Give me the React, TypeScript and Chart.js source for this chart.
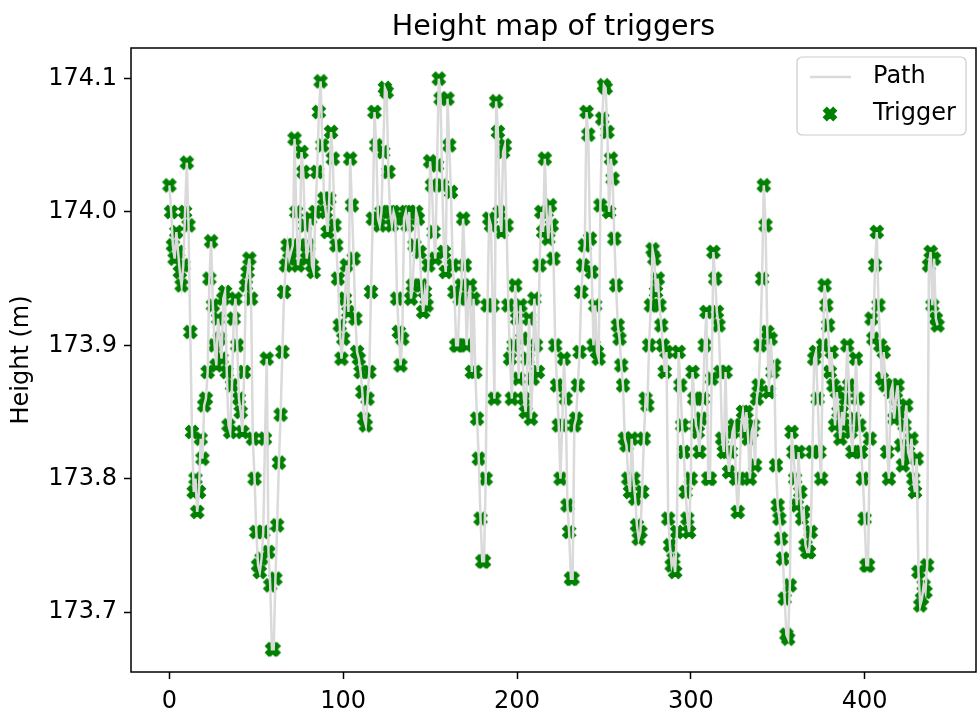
import React, { useEffect, useRef } from "react";
import { Chart, registerables } from "chart.js";

Chart.register(...registerables);

const heights: number[] = [
  174.02, 174.0, 173.975, 173.965, 173.985, 173.97, 173.955, 173.945, 173.96, 174.0,
  174.037, 173.99, 173.91, 173.835, 173.79, 173.8, 173.775, 173.79, 173.83, 173.815,
  173.855, 173.86, 173.88, 173.95, 173.978, 173.93, 173.9, 173.885, 173.92, 173.905,
  173.89, 173.935, 173.94, 173.88, 173.84, 173.835, 173.87, 173.92, 173.935, 173.9,
  173.86, 173.85, 173.835, 173.88, 173.945, 173.955, 173.965, 173.935, 173.83, 173.8,
  173.76, 173.735, 173.73, 173.74, 173.76, 173.83, 173.89, 173.745, 173.72, 173.672,
  173.672, 173.725, 173.765, 173.812, 173.848, 173.895, 173.94, 173.96, 173.975, 173.965,
  173.97, 173.975, 174.055, 174.0, 173.96, 173.975, 174.045, 174.03, 173.99, 173.965,
  173.975, 173.995, 173.96, 173.955, 174.0, 174.03, 174.075, 174.098, 174.05, 174.01,
  174.0, 173.985, 174.01, 174.06, 174.04, 173.99, 173.975, 173.95, 173.915, 173.89,
  173.905, 173.935, 173.96, 173.925, 174.04, 174.005, 173.965, 173.92, 173.895, 173.89,
  173.88, 173.865, 173.845, 173.84, 173.86, 173.88, 173.94, 173.995, 174.075, 174.05,
  173.995, 173.99, 174.0, 174.045, 174.093, 174.09, 174.03, 174.0, 173.99, 174.0,
  173.995, 173.935, 173.91, 173.885, 173.905, 173.995, 174.0, 173.99, 174.0, 173.935,
  173.945, 173.975, 174.0, 173.995, 173.97, 173.945, 173.925, 173.94, 173.93, 173.96,
  174.038, 174.02, 173.985, 173.965, 174.035, 174.1, 174.085, 174.02, 173.97, 173.955,
  174.085, 174.05, 174.015, 173.96, 173.94, 173.9, 173.9, 173.935, 173.945, 173.995,
  173.96, 173.9, 173.935, 173.945, 173.88, 173.935, 173.88, 173.845, 173.815, 173.77,
  173.738, 173.738, 173.8, 173.93, 173.995, 173.99, 173.93, 173.86, 174.083, 174.06,
  174.0, 173.985, 174.045, 174.05, 173.99, 173.93, 173.89, 173.86, 173.9, 173.945,
  173.92, 173.875, 173.93, 173.905, 173.86, 173.85, 173.89, 173.92, 173.845, 173.875,
  173.935, 173.9, 173.88, 173.96, 174.0, 173.985, 174.04, 174.0, 173.98, 174.005,
  173.99, 173.965, 173.9, 173.87, 173.84, 173.8, 173.84, 173.89, 173.86, 173.78,
  173.76, 173.725, 173.725, 173.84, 173.845, 173.87, 173.895, 173.94, 173.96, 173.975,
  174.075, 174.058, 173.98, 173.955, 173.9, 173.93, 173.895, 173.89, 174.005, 174.07,
  174.095, 174.093, 174.06, 174.0, 174.04, 174.025, 173.98, 173.945, 173.915, 173.905,
  173.885, 173.87, 173.83, 173.825, 173.8, 173.79, 173.83, 173.8, 173.785, 173.765,
  173.755, 173.76, 173.79, 173.83, 173.86, 173.855, 173.9, 173.93, 173.972, 173.965,
  173.94, 173.95, 173.93, 173.915, 173.9, 173.88, 173.895, 173.77, 173.75, 173.735,
  173.74, 173.73, 173.76, 173.895, 173.87, 173.84, 173.82, 173.79, 173.77, 173.76,
  173.8, 173.88, 173.86, 173.84, 173.835, 173.82, 173.845, 173.86, 173.9, 173.925,
  173.8, 173.8, 173.875, 173.97, 173.95, 173.925, 173.915, 173.88, 173.83, 173.82,
  173.88, 173.82, 173.805, 173.82, 173.835, 173.84, 173.8, 173.775, 173.8, 173.84,
  173.85, 173.835, 173.85, 173.83, 173.8, 173.835, 173.84, 173.81, 173.86, 173.87,
  173.9, 173.95, 174.02, 173.99, 173.91, 173.865, 173.905, 173.88, 173.885, 173.81,
  173.78, 173.77, 173.755, 173.74, 173.71, 173.683, 173.68, 173.72, 173.835, 173.82,
  173.8, 173.78, 173.82, 173.79, 173.77, 173.775, 173.75, 173.745, 173.745, 173.76,
  173.82, 173.89, 173.895, 173.86, 173.82, 173.8, 173.9, 173.945, 173.93, 173.915,
  173.88, 173.895, 173.87, 173.84, 173.865, 173.85, 173.83, 173.85, 173.84, 173.86,
  173.9, 173.87, 173.835, 173.82, 173.845, 173.89, 173.86, 173.84, 173.82, 173.8,
  173.77, 173.735, 173.735, 173.83, 173.92, 173.905, 173.96, 173.985, 173.93, 173.9,
  173.875, 173.895, 173.87, 173.82, 173.8, 173.865, 173.87, 173.845, 173.86, 173.87,
  173.85, 173.825, 173.81, 173.84, 173.855, 173.82, 173.815, 173.83, 173.8, 173.79,
  173.815, 173.73, 173.705, 173.71, 173.72, 173.715, 173.735, 173.96, 173.97, 173.93,
  173.965, 173.92, 173.915,
];

const xTicks: number[] = [0, 100, 200, 300, 400];
const yTicks: number[] = [173.7, 173.8, 173.9, 174.0, 174.1];

const titleText = "Height map of triggers";
const yLabel = "Height (m)";
const legendLabels = ["Path", "Trigger"];

const FONT = "'DejaVu Sans', sans-serif";
const GREEN = "#008000";
const PATH_COLOR = "#dadada";

function makeMarker(): HTMLCanvasElement {
  const c = document.createElement("canvas");
  c.width = 20;
  c.height = 20;
  const ctx = c.getContext("2d")!;
  const base = [
    [-1, -3], [-1, -1], [-3, -1], [-3, 1], [-1, 1], [-1, 3],
    [1, 3], [1, 1], [3, 1], [3, -1], [1, -1], [1, -3],
  ];
  const s = 13.5 / 6;
  const a = Math.PI / 4;
  ctx.beginPath();
  base.forEach(([px, py], i) => {
    const x = px * s, y = py * s;
    const rx = x * Math.cos(a) - y * Math.sin(a) + 10;
    const ry = x * Math.sin(a) + y * Math.cos(a) + 10;
    if (i === 0) ctx.moveTo(rx, ry);
    else ctx.lineTo(rx, ry);
  });
  ctx.closePath();
  ctx.fillStyle = GREEN;
  ctx.fill();
  ctx.lineWidth = 1.5;
  ctx.strokeStyle = GREEN;
  ctx.stroke();
  return c;
}

export default function App() {
  const ref = useRef<HTMLCanvasElement | null>(null);

  useEffect(() => {
    document.body.style.margin = "0";
    const canvas = ref.current!;
    const marker = makeMarker();
    const points = heights.map((h, i) => ({ x: i, y: h }));

    const decor = {
      id: "decor",
      afterDraw(chart: any) {
        const { ctx, chartArea } = chart;
        const { left, right, top, bottom } = chartArea;
        ctx.save();
        ctx.strokeStyle = "#000";
        ctx.lineWidth = 1.5;
        ctx.strokeRect(left, top, right - left, bottom - top);
        ctx.fillStyle = "#000";
        ctx.font = `28.5px ${FONT}`;
        ctx.textAlign = "center";
        ctx.textBaseline = "alphabetic";
        ctx.fillText(titleText, (left + right) / 2, top - 13);
        ctx.save();
        ctx.translate(22, (top + bottom) / 2);
        ctx.rotate(-Math.PI / 2);
        ctx.font = `24px ${FONT}`;
        ctx.textAlign = "center";
        ctx.textBaseline = "middle";
        ctx.fillText(yLabel, 0, 0);
        ctx.restore();
        const lx = 797, ly = 57, lw = 169, lh = 78;
        ctx.beginPath();
        ctx.roundRect(lx, ly, lw, lh, 5);
        ctx.fillStyle = "rgba(255,255,255,0.8)";
        ctx.fill();
        ctx.strokeStyle = "#cccccc";
        ctx.lineWidth = 1.2;
        ctx.stroke();
        ctx.beginPath();
        ctx.moveTo(810, 77);
        ctx.lineTo(851, 77);
        ctx.strokeStyle = PATH_COLOR;
        ctx.lineWidth = 2.5;
        ctx.stroke();
        ctx.drawImage(marker, 830 - 10, 114 - 10);
        ctx.fillStyle = "#000";
        ctx.font = `24px ${FONT}`;
        ctx.textAlign = "left";
        ctx.textBaseline = "middle";
        ctx.fillText(legendLabels[0], 873, 77);
        ctx.fillText(legendLabels[1], 873, 114);
        ctx.restore();
      },
    };

    const chart = new Chart(canvas, {
      type: "scatter",
      data: {
        datasets: [
          {
            label: legendLabels[0],
            data: points,
            showLine: true,
            borderColor: PATH_COLOR,
            borderWidth: 2.5,
            pointRadius: 0,
            pointHoverRadius: 0,
            order: 1,
          } as any,
          {
            label: legendLabels[1],
            data: points,
            pointStyle: marker as any,
            pointRadius: 7,
            backgroundColor: GREEN,
            borderColor: GREEN,
            order: 2,
          },
        ],
      },
      options: {
        responsive: false,
        animation: false,
        devicePixelRatio: 1,
        layout: { autoPadding: false, padding: { top: 48, right: 2, left: 0, bottom: 0 } },
        plugins: {
          legend: { display: false },
          title: { display: false },
          tooltip: { enabled: false },
        },
        events: [],
        scales: {
          x: {
            type: "linear",
            min: -22.1,
            max: 464.1,
            afterFit: (s: any) => {
              s.height = 46;
              s.paddingLeft = 0;
              s.paddingRight = 0;
            },
            afterBuildTicks: (s: any) => { s.ticks = xTicks.map((v) => ({ value: v })); },
            grid: { drawOnChartArea: false, drawTicks: true, tickLength: 7, color: "#000", tickWidth: 1.5 },
            border: { display: false },
            ticks: {
              color: "#000",
              padding: 8,
              font: { family: FONT, size: 24 },
              callback: (v: any) => String(v),
              maxRotation: 0,
            },
          },
          y: {
            type: "linear",
            min: 173.655,
            max: 174.123,
            afterFit: (s: any) => {
              s.width = 131;
              s.paddingTop = 0;
              s.paddingBottom = 0;
            },
            afterBuildTicks: (s: any) => { s.ticks = yTicks.map((v) => ({ value: v })); },
            grid: { drawOnChartArea: false, drawTicks: true, tickLength: 7, color: "#000", tickWidth: 1.5 },
            border: { display: false },
            ticks: {
              color: "#000",
              padding: 7,
              font: { family: FONT, size: 24 },
              callback: (v: any) => Number(v).toFixed(1),
            },
          },
        },
      },
      plugins: [decor],
    });
    return () => chart.destroy();
  }, []);

  return (
    <div style={{ width: 978, height: 718 }}>
      <canvas ref={ref} width={978} height={718} style={{ display: "block" }} />
    </div>
  );
}
